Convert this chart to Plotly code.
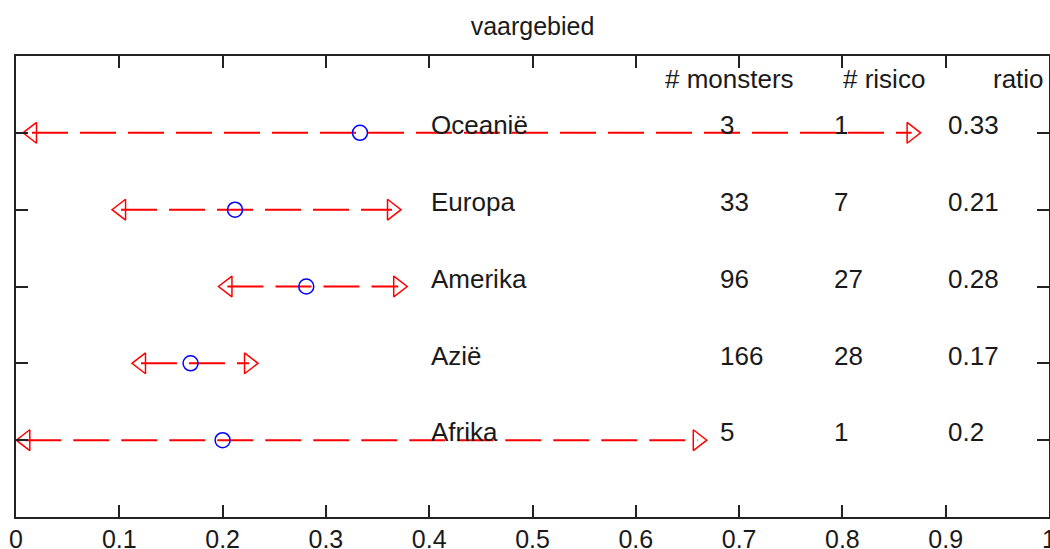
import plotly.graph_objects as go

# ---- data (top row first) ----
regions = ["Oceanië", "Europa", "Amerika", "Azië", "Afrika"]
ratio = [0.333, 0.212, 0.281, 0.169, 0.2]
lower = [0.0155, 0.1017, 0.2047, 0.121, 0.009]
upper = [0.867, 0.364, 0.370, 0.2256, 0.660]
monsters = ["3", "33", "96", "166", "5"]
risico = ["1", "7", "27", "28", "1"]
ratio_txt = ["0.33", "0.21", "0.28", "0.17", "0.2"]
headers = ["# monsters", "# risico", "ratio"]
title = "vaargebied"

FONT = "Liberation Sans"
TXT = "#1a1a1a"
n = len(regions)
rows = [n - i for i in range(n)]

fig = go.Figure()

# dashed interval lines
for i in range(n):
    fig.add_trace(go.Scatter(
        x=[lower[i], upper[i]], y=[rows[i], rows[i]], mode="lines",
        line=dict(color="#ff0000", width=2, dash="36px,12px"),
        hoverinfo="skip", showlegend=False))

fig.add_trace(go.Scatter(
    x=lower, y=rows, mode="markers",
    marker=dict(symbol="triangle-left-open", size=18, color="#ff0000",
                line=dict(width=1.5)),
    showlegend=False, cliponaxis=False))
fig.add_trace(go.Scatter(
    x=upper, y=rows, mode="markers",
    marker=dict(symbol="triangle-right-open", size=18, color="#ff0000",
                line=dict(width=1.5)),
    showlegend=False, cliponaxis=False))
fig.add_trace(go.Scatter(
    x=ratio, y=rows, mode="markers",
    marker=dict(symbol="circle-open", size=15, color="#0000ff",
                line=dict(width=1.5)),
    showlegend=False))

annots = []
def txt(x, y, s):
    annots.append(dict(x=x, y=y, xref="x", yref="y", text=s, showarrow=False,
                       xanchor="left", yanchor="middle",
                       font=dict(family=FONT, size=26, color=TXT)))

for i in range(n):
    y = rows[i] + 0.1
    txt(0.40, y, regions[i])
    txt(0.68, y, monsters[i])
    txt(0.79, y, risico[i])
    txt(0.90, y, ratio_txt[i])

hx = [0.626, 0.799, 0.9436]
for h, x in zip(headers, hx):
    txt(x, 5.7, h)

fig.update_layout(
    width=1050, height=549, autosize=False,
    margin=dict(l=16, r=1, t=56, b=32, autoexpand=False),
    paper_bgcolor="white", plot_bgcolor="white",
    title=dict(text=title, x=0.5, xref="paper", xanchor="center",
               y=1 - 26 / 549, yref="container", yanchor="middle",
               font=dict(family=FONT, size=25, color=TXT)),
    annotations=annots,
    font=dict(family=FONT, size=25, color=TXT),
)
fig.update_xaxes(range=[0, 1], dtick=0.1, tick0=0, ticks="inside", ticklen=12,
                 tickwidth=1.5, tickcolor="#222", showline=True, linecolor="#222",
                 linewidth=2, mirror="ticks", showgrid=False, zeroline=False,
                 automargin=False, ticklabelstandoff=-1, ticklabeloverflow="allow",
                 tickfont=dict(family=FONT, size=25, color=TXT))
fig.update_yaxes(range=[0, 6], tickvals=[1, 2, 3, 4, 5], showticklabels=False,
                 ticks="inside", ticklen=12, tickwidth=1.5, tickcolor="#222",
                 showline=True, linecolor="#222", linewidth=2, mirror="ticks",
                 showgrid=False, zeroline=False, automargin=False)

fig.write_html("out.html", config={"displayModeBar": False},
               post_script="document.body.style.margin='0';document.body.style.overflow='hidden';")
